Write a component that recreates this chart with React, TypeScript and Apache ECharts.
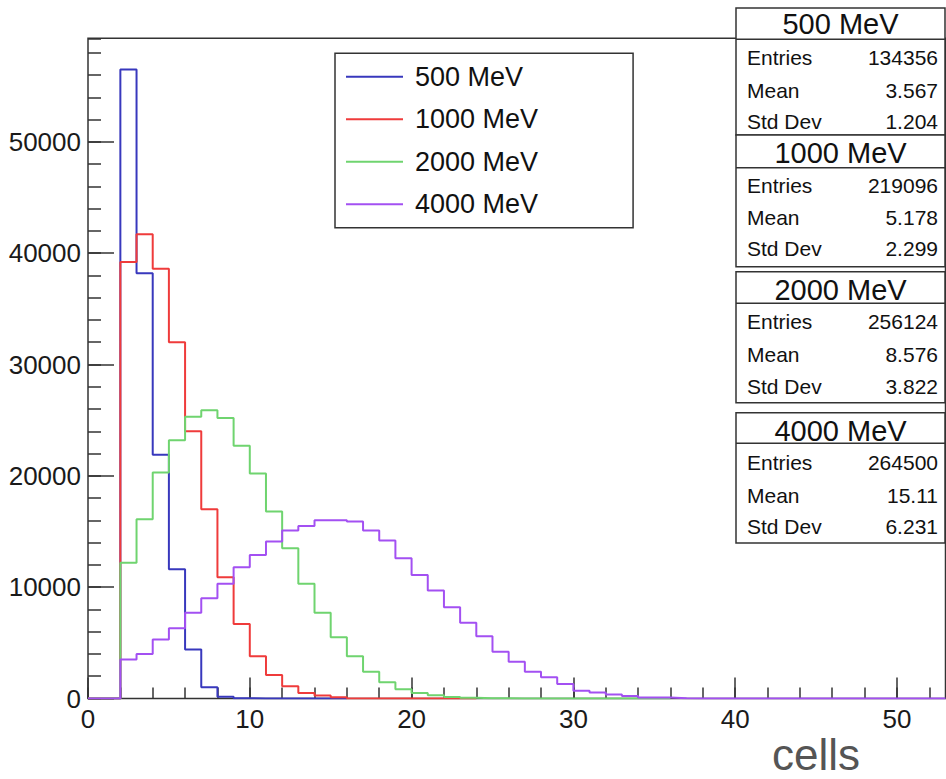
import React, { useEffect, useRef } from "react";
import * as echarts from "echarts";

// ---- data (bin width 1, first bin starts at 0) ----
const BIN_WIDTH = 1;
const seriesNames = ["500 MeV", "1000 MeV", "2000 MeV", "4000 MeV"];
const seriesColors = ["#3838bd", "#ef3b3b", "#6fd46f", "#a350f2"];

const blue500 = [0, 0, 56500, 38200, 21900, 11600, 4400, 1000, 150, 30, 0, 0, 0, 0, 0, 0];
const red1000 = [
  0, 0, 39200, 41700, 38600, 32000, 24000, 17000, 10900, 6700, 3800, 2100, 1100, 500, 280, 110,
  0, 0, 0, 0, 0, 0, 0, 0,
];
const green2000 = [
  0, 0, 12200, 16100, 20300, 23200, 25300, 25900, 25200, 22700, 20200, 16800, 13500, 10300, 7700,
  5500, 3800, 2400, 1450, 830, 500, 290, 135, 70, 30, 15, 0, 0, 0, 0, 0, 0, 0, 0, 0, 0,
];
const violet4000 = [
  0, 0, 3500, 4000, 5300, 6300, 7700, 9000, 10300, 11800, 12900, 14100, 15100, 15500, 16000, 16000,
  15900, 15100, 14200, 12600, 11100, 9700, 8200, 6800, 5600, 4200, 3300, 2400, 1900, 1300, 700, 550,
  350, 220, 100, 80, 20, 0, 0, 0, 0, 0, 0, 0, 0, 0, 0, 0, 0, 0, 0, 0, 0,
];
const histograms = [blue500, red1000, green2000, violet4000];

const statsEntries = ["134356", "219096", "256124", "264500"];
const statsMean = ["3.567", "5.178", "8.576", "15.11"];
const statsStdDev = ["1.204", "2.299", "3.822", "6.231"];
const statsRowLabels = ["Entries", "Mean", "Std Dev"];

const X_MAX = 53;
const Y_MAX = 59300;
const xAxisTitle = "cells";

// ---- layout ----
const FONT = "'Liberation Sans', Arial, Helvetica, sans-serif";
const FRAME = "#333333";
const statBoxes = [
  { top: 8, sep: 39.3, bottom: 135, head: 24, rows: [57.3, 90, 121.7] },
  { top: 135, sep: 167.7, bottom: 266.7, head: 152.5, rows: [185, 217.3, 248.3] },
  { top: 271.7, sep: 303.3, bottom: 402.7, head: 290, rows: [321.7, 354, 386] },
  { top: 412.7, sep: 443.3, bottom: 543, head: 431, rows: [462.7, 495, 526.7] },
];

function toSteps(values: number[]) {
  const pts: number[][] = values.map((v, i) => [i * BIN_WIDTH, v]);
  pts.push([values.length * BIN_WIDTH, values[values.length - 1]]);
  return pts;
}

function buildStatsGraphics() {
  const els: any[] = [];
  statBoxes.forEach((b, i) => {
    els.push({
      type: "rect",
      z: 100,
      shape: { x: 736, y: b.top, width: 209, height: b.bottom - b.top },
      style: { fill: "#ffffff", stroke: FRAME, lineWidth: 1.5 },
    });
    els.push({
      type: "line",
      z: 101,
      shape: { x1: 736, y1: b.sep, x2: 945, y2: b.sep },
      style: { stroke: FRAME, lineWidth: 1.5 },
    });
    els.push({
      type: "text",
      z: 102,
      x: 840.5,
      y: b.head,
      style: {
        text: seriesNames[i],
        font: `29px ${FONT}`,
        fill: "#111",
        textAlign: "center",
        textVerticalAlign: "middle",
      },
    });
    const vals = [statsEntries[i], statsMean[i], statsStdDev[i]];
    statsRowLabels.forEach((lab, r) => {
      els.push({
        type: "text",
        z: 102,
        x: 747,
        y: b.rows[r],
        style: { text: lab, font: `21px ${FONT}`, fill: "#111", textAlign: "left", textVerticalAlign: "middle" },
      });
      els.push({
        type: "text",
        z: 102,
        x: 938,
        y: b.rows[r],
        style: { text: vals[r], font: `21px ${FONT}`, fill: "#111", textAlign: "right", textVerticalAlign: "middle" },
      });
    });
  });
  els.push({
    type: "text",
    z: 102,
    x: 860,
    y: 754,
    style: { text: xAxisTitle, font: `44px ${FONT}`, fill: "#555555", textAlign: "right", textVerticalAlign: "middle" },
  });
  return els;
}

export default function App() {
  const ref = useRef<HTMLDivElement>(null);
  useEffect(() => {
    if (!ref.current) return;
    const chart = echarts.init(ref.current, undefined, { renderer: "svg" });
    const tickStyle = { color: FRAME, width: 1.5 };
    const plain = (v: number) => String(v);
    const option: any = {
      animation: false,
      backgroundColor: "#ffffff",
      grid: {
        show: true,
        left: 88,
        top: 38.3,
        right: 0.5,
        bottom: 80.5,
        borderColor: FRAME,
        borderWidth: 1.5,
        backgroundColor: "transparent",
      },
      legend: {
        orient: "vertical",
        left: 335,
        top: 53.3,
        data: seriesNames,
        icon: "path://M0,0H57V2H0Z",
        itemWidth: 57,
        itemHeight: 2,
        itemGap: 15.5,
        padding: [10, 95, 10, 11],
        borderColor: FRAME,
        borderWidth: 1.5,
        backgroundColor: "#ffffff",
        selectedMode: false,
        textStyle: { fontSize: 27, lineHeight: 27, fontFamily: FONT, color: "#111", padding: [0, 0, 0, 7] },
      },
      xAxis: [
        {
          type: "value",
          min: 0,
          max: X_MAX,
          interval: 2,
          position: "bottom",
          axisLine: { show: false },
          axisTick: { inside: true, length: 11, lineStyle: tickStyle },
          axisLabel: { show: false },
          splitLine: { show: false },
        },
        {
          type: "value",
          min: 0,
          max: X_MAX,
          interval: 10,
          position: "bottom",
          axisLine: { show: false },
          axisTick: { inside: true, length: 21, lineStyle: tickStyle },
          axisLabel: {
            fontSize: 26,
            fontFamily: FONT,
            color: "#1a1a1a",
            margin: 7,
            showMaxLabel: false,
            formatter: plain,
          },
          splitLine: { show: false },
        },
      ],
      yAxis: [
        {
          type: "value",
          min: 0,
          max: Y_MAX,
          interval: 2000,
          position: "left",
          axisLine: { show: false },
          axisTick: { inside: true, length: 13, lineStyle: tickStyle },
          axisLabel: { show: false },
          splitLine: { show: false },
        },
        {
          type: "value",
          min: 0,
          max: Y_MAX,
          interval: 10000,
          position: "left",
          axisLine: { show: false },
          axisTick: { inside: true, length: 26, lineStyle: tickStyle },
          axisLabel: {
            fontSize: 26,
            fontFamily: FONT,
            color: "#1a1a1a",
            margin: 7,
            showMaxLabel: false,
            formatter: plain,
          },
          splitLine: { show: false },
        },
      ],
      series: histograms.map((h, i) => ({
        name: seriesNames[i],
        type: "line",
        step: "end",
        xAxisIndex: 0,
        yAxisIndex: 0,
        symbol: "none",
        showSymbol: false,
        color: seriesColors[i],
        itemStyle: { color: seriesColors[i] },
        lineStyle: { color: seriesColors[i], width: 2 },
        data: toSteps(h),
        z: 2 + i,
      })),
      graphic: buildStatsGraphics(),
    };
    chart.setOption(option);
    return () => chart.dispose();
  }, []);
  return (
    <div
      ref={ref}
      style={{ position: "fixed", left: 0, top: 0, width: 946, height: 779, background: "#fff" }}
    />
  );
}
